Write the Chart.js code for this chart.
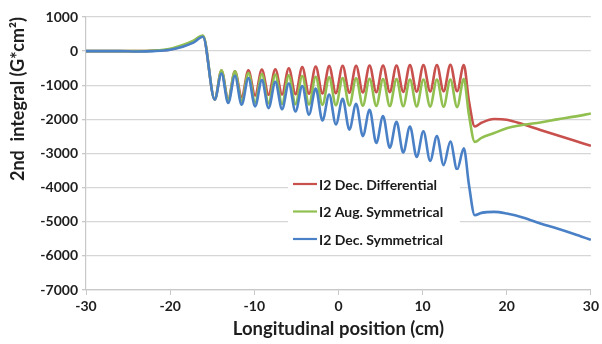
<!DOCTYPE html>
<html>
<head>
<meta charset="utf-8">
<script src="https://cdn.jsdelivr.net/npm/chart.js@4.4.1/dist/chart.umd.min.js"></script>
<style>
  html, body { margin: 0; padding: 0; background: #fff; }
  #wrap { width: 602px; height: 344px; position: relative; }
</style>
</head>
<body>
<div id="wrap"><canvas id="c" width="602" height="344"></canvas></div>
<script>
const positions = [
  -30, -26, -24, -22, -20, -18.5, -17.3, -16.1,
  -14.7, -13.9, -13.1, -12.3, -11.5, -10.7, -9.9, -9.1, -8.3, -7.5,
  -6.7, -5.9, -5.1, -4.3, -3.5, -2.7, -1.9, -1.1, -0.3, 0.5,
  1.3, 2.1, 2.9, 3.7, 4.5, 5.3, 6.1, 6.9, 7.7, 8.5,
  9.3, 10.1, 10.9, 11.7, 12.5, 13.3, 14.1, 14.9,
  15.5, 16.2, 17, 18.5, 20, 22, 24, 26, 28, 30
];

// I2 Dec. Differential (G*cm^2)
const decDifferential = [
  0, 0, 0, 10, 50, 150, 270, 440,
  -1420, -570, -1420, -590, -1350, -560, -1300, -540, -1280, -530,
  -1270, -500, -1260, -470, -1250, -450, -1240, -440, -1230, -430,
  -1220, -430, -1210, -420, -1205, -420, -1200, -420, -1195, -410,
  -1190, -410, -1185, -405, -1180, -400, -1175, -410,
  -1450, -2210, -2100, -1990, -2010, -2150, -2310, -2465, -2620, -2775
];

// I2 Aug. Symmetrical (G*cm^2)
const augSymmetrical = [
  0, 0, 0, 15, 70, 180, 300, 460,
  -1420, -560, -1450, -590, -1480, -640, -1510, -670, -1530, -690,
  -1545, -710, -1555, -730, -1565, -750, -1575, -770, -1585, -790,
  -1595, -800, -1600, -810, -1605, -820, -1610, -820, -1615, -830,
  -1620, -830, -1625, -830, -1630, -830, -1640, -820,
  -1850, -2660, -2540, -2400, -2260, -2160, -2090, -2000, -1920, -1830
];

// I2 Dec. Symmetrical (G*cm^2)
const decSymmetrical = [
  0, 0, -10, 0, 40, 130, 240, 420,
  -1420, -655, -1520, -720, -1570, -790, -1620, -850, -1670, -900,
  -1700, -950, -1770, -1020, -1860, -1100, -2030, -1275, -2150, -1400,
  -2300, -1540, -2490, -1720, -2690, -1900, -2830, -2070, -2970, -2210,
  -3100, -2350, -3215, -2490, -3340, -2650, -3470, -2850,
  -3900, -4810, -4740, -4710, -4760, -4880, -5050, -5200, -5360, -5530
];

const seriesNames = ['I2 Dec. Differential', 'I2 Aug. Symmetrical', 'I2 Dec. Symmetrical'];
const seriesColors = ['#C8504D', '#92C050', '#4A80C6'];
const xTicks = [-30, -20, -10, 0, 10, 20, 30];
const yTicks = [1000, 0, -1000, -2000, -3000, -4000, -5000, -6000, -7000];

const seriesValues = [decDifferential, augSymmetrical, decSymmetrical];

const datasets = seriesValues.map((vals, i) => ({
  label: seriesNames[i],
  data: positions.map((x, k) => ({ x: x, y: vals[k] })),
  borderColor: seriesColors[i],
  backgroundColor: seriesColors[i],
  borderWidth: 2.6,
  pointRadius: 0,
  fill: false,
  cubicInterpolationMode: 'monotone',
  order: 3 - i
}));

const insideLegend = {
  id: 'insideLegend',
  afterDatasetsDraw(chart) {
    const ctx = chart.ctx;
    const bx = 288, by = 170, bw = 172, bh = 82;
    ctx.save();
    ctx.fillStyle = '#ffffff';
    ctx.fillRect(bx, by, bw, bh);
    ctx.font = 'bold 14px Lato, "Liberation Sans", sans-serif';
    ctx.textBaseline = 'middle';
    seriesNames.forEach((name, i) => {
      const y = 184 + i * 27.5;
      ctx.strokeStyle = seriesColors[i];
      ctx.lineWidth = 2.2;
      ctx.beginPath();
      ctx.moveTo(293, y);
      ctx.lineTo(317, y);
      ctx.stroke();
      ctx.fillStyle = '#1a1a1a';
      ctx.fillText(name, 319, y + 1);
    });
    ctx.restore();
  }
};

const fontFam = 'Lato, "Liberation Sans", sans-serif';

new Chart(document.getElementById('c'), {
  type: 'line',
  data: { datasets },
  plugins: [insideLegend],
  options: {
    responsive: false,
    animation: false,
    layout: { padding: { top: 17, right: 10, left: 7, bottom: 0 } },
    plugins: { legend: { display: false }, tooltip: { enabled: false } },
    scales: {
      x: {
        type: 'linear',
        min: -30, max: 30,
        afterBuildTicks: (scale) => { scale.ticks = xTicks.map(v => ({ value: v })); },
        afterFit: (scale) => { scale.height = 54; },
        grid: { drawOnChartArea: false, drawTicks: true, tickLength: 5, tickColor: '#c8c8c8', lineWidth: 1 },
        border: { color: '#c8c8c8', width: 1.2 },
        ticks: { color: '#1e1e1e', font: { family: fontFam, size: 14, weight: 'bold' }, padding: 3, maxRotation: 0,
                 callback: (v) => String(v) },
        title: { display: true, text: 'Longitudinal position (cm)', color: '#1e1e1e',
                 font: { family: fontFam, size: 18.5, weight: 'bold' }, padding: { top: 0, bottom: 4 } }
      },
      y: {
        type: 'linear',
        min: -7000, max: 1000,
        afterBuildTicks: (scale) => { scale.ticks = yTicks.map(v => ({ value: v })); },
        afterFit: (scale) => { scale.width = 79; },
        grid: { color: '#d6d6d6', lineWidth: 1.3, drawTicks: true, tickLength: 4, tickColor: '#c8c8c8' },
        border: { color: '#c8c8c8', width: 1.2 },
        ticks: { color: '#1e1e1e', font: { family: fontFam, size: 14, weight: 'bold' }, padding: 4,
                 callback: (v) => String(v) },
        title: { display: true, text: '2nd  integral (G*cm²)', align: 'end', color: '#1e1e1e',
                 font: { family: fontFam, size: 18, weight: 'bold' }, padding: { top: 0, bottom: 2 } }
      }
    }
  }
});
</script>
</body>
</html>
